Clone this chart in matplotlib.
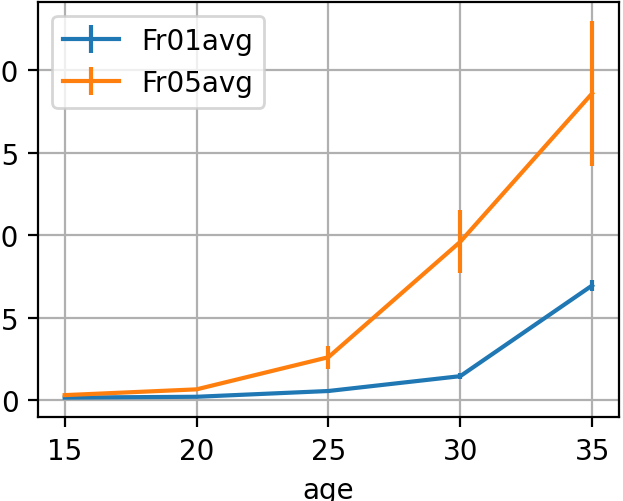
import matplotlib
matplotlib.use("Agg")
import matplotlib.pyplot as plt

age = [15, 20, 25, 30, 35]
fr01_avg = [0.15, 0.2, 0.55, 1.45, 6.95]
fr01_err = [0.05, 0.05, 0.1, 0.2, 0.35]
fr05_avg = [0.3, 0.65, 2.6, 9.6, 18.6]
fr05_err = [0.05, 0.1, 0.7, 1.9, 4.4]

fig = plt.figure(figsize=(6.23 / 2, 5.02 / 2), dpi=200)
# axes placed so the y tick labels run off the left edge, as in the source
ax = fig.add_axes([38.3 / 623, 1 - 418.3 / 502, (618.5 - 38.3) / 623, (418.3 - 3) / 502])

ax.errorbar(age, fr01_avg, yerr=fr01_err, label="Fr01avg")
ax.errorbar(age, fr05_avg, yerr=fr05_err, label="Fr05avg")

ax.set_xlabel("age")
ax.set_xticks(age)
ax.set_yticks([0, 5, 10, 15, 20])
ax.grid(True)
ax.legend(loc="upper left")

fig.savefig("out.png", dpi=200)
